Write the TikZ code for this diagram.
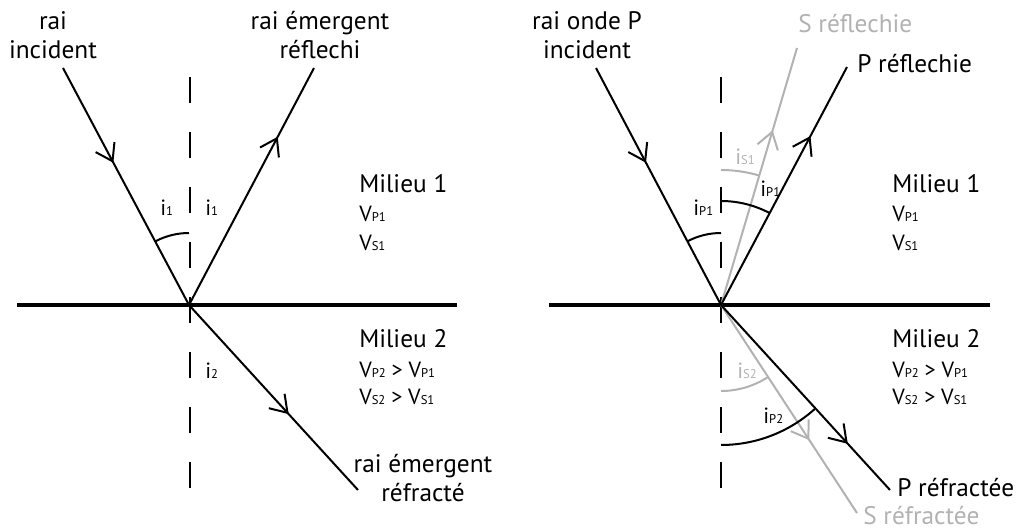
\documentclass[tikz,border=0pt]{standalone}
\usepackage{fontspec}
\setmainfont{PT Sans}
\usetikzlibrary{arrows.meta,decorations.markings}
\definecolor{sgray}{RGB}{178,178,178}
\newcommand{\lowsub}[1]{{\fontsize{9.5}{9.5}\selectfont #1}}

\begin{document}
\begin{tikzpicture}[x=0.75pt,y=0.75pt,
  ray/.style={line width=1.5pt,postaction={decorate,decoration={markings,
      mark=at position #1 with {\arrow{Straight Barb[length=12pt,width=16pt]}}}}},
  iface/.style={line width=3pt},
  normal/.style={line width=1.5pt,dash pattern=on 19.5pt off 21.75pt},
  angl/.style={line width=1.5pt},
  lbl/.style={font=\fontsize{19}{21.75}\selectfont,align=center,inner sep=0pt},
  med/.style={font=\fontsize{19}{20}\selectfont,anchor=base west,inner sep=0pt},
  vel/.style={font=\fontsize{16.5}{18}\selectfont,anchor=base west,inner sep=0pt},
  ang/.style={font=\fontsize{16.5}{18}\selectfont,anchor=base west,inner sep=0pt}]
\useasboundingbox (0,0) rectangle (1021,-531);

% left: one ray
\coordinate (O1) at (189,-305);
\coordinate (I1) at (63,-68);
\coordinate (R1) at (314,-68);
\coordinate (T1) at (358,-490);
\draw[iface] (17,-305) -- (457,-305);
\draw[normal] (190,-77) -- (190,-488);
\draw[ray=0.4] (I1) -- (O1);
\draw[ray=0.71] (O1) -- (R1);
\draw[ray=0.59] (O1) -- (T1);
\draw[angl] (O1) ++(90:72) arc[start angle=90,end angle=118,radius=72];
\node[ang] (a1) at (160,-215) {i\lowsub{1}};
\node[ang] (a2) at (205,-215) {i\lowsub{1}};
\node[ang] (a3) at (205,-378) {i\lowsub{2}};
\node[lbl] (inc1) at (53,-35) {rai\\incident};
\node[lbl] (ref1) at (320,-35) {rai émergent\\réflechi};
\node[lbl] (tra1) at (423,-478) {rai émergent\\réfracté};
\node[med] (m1) at (359,-193) {Milieu 1};
\node[vel] (v1) at (359,-222) {V\lowsub{P1}};
\node[vel] (v2) at (359,-250) {V\lowsub{S1}};
\node[med] (m2) at (359,-347) {Milieu 2};
\node[vel] (v3) at (359,-377) {V\lowsub{P2} > V\lowsub{P1}};
\node[vel] (v4) at (359,-404) {V\lowsub{S2} > V\lowsub{S1}};

% right: P and S waves
\coordinate (O2) at (721,-305);
\coordinate (I2) at (596,-68);
\coordinate (PR) at (847,-67);
\coordinate (SR) at (797,-48);
\coordinate (PT) at (890,-490);
\coordinate (ST) at (857,-513);
\draw[iface] (549,-305) -- (990,-305);
\draw[normal] (721,-77) -- (721,-488);
\draw[ray=0.68,sgray] (O2) -- (SR);
\draw[ray=0.65,sgray] (O2) -- (ST);
\draw[ray=0.4] (I2) -- (O2);
\draw[ray=0.71] (O2) -- (PR);
\draw[ray=0.75] (O2) -- (PT);
\draw[angl] (O2) ++(90:72) arc[start angle=90,end angle=118,radius=72];
\draw[angl] (O2) ++(90:104) arc[start angle=90,end angle=62,radius=104];
\draw[angl,sgray] (O2) ++(90:135) arc[start angle=90,end angle=73.5,radius=135];
\draw[angl,sgray] (O2) ++(270:86) arc[start angle=270,end angle=303,radius=86];
\draw[angl] (O2) ++(270:140) arc[start angle=270,end angle=312,radius=140];
\node[ang] (b1) at (693,-215) {i\lowsub{P1}};
\node[ang] (b2) at (760,-197) {i\lowsub{P1}};
\node[ang,sgray] (b3) at (735,-165) {i\lowsub{S1}};
\node[ang,sgray] (b4) at (737,-378) {i\lowsub{S2}};
\node[ang] (b5) at (763,-423) {i\lowsub{P2}};
\node[lbl] (inc2) at (587,-35) {rai onde P\\incident};
\node[med,sgray] (sr) at (798,-33) {S réflechie};
\node[med] (pr) at (857,-73) {P réflechie};
\node[med] (pt) at (897,-496) {P réfractée};
\node[med,sgray] (st) at (863,-524) {S réfractée};
\node[med] (m3) at (892,-193) {Milieu 1};
\node[vel] (v5) at (892,-222) {V\lowsub{P1}};
\node[vel] (v6) at (892,-250) {V\lowsub{S1}};
\node[med] (m4) at (892,-347) {Milieu 2};
\node[vel] (v7) at (892,-377) {V\lowsub{P2} > V\lowsub{P1}};
\node[vel] (v8) at (892,-404) {V\lowsub{S2} > V\lowsub{S1}};
\end{tikzpicture}
\end{document}
